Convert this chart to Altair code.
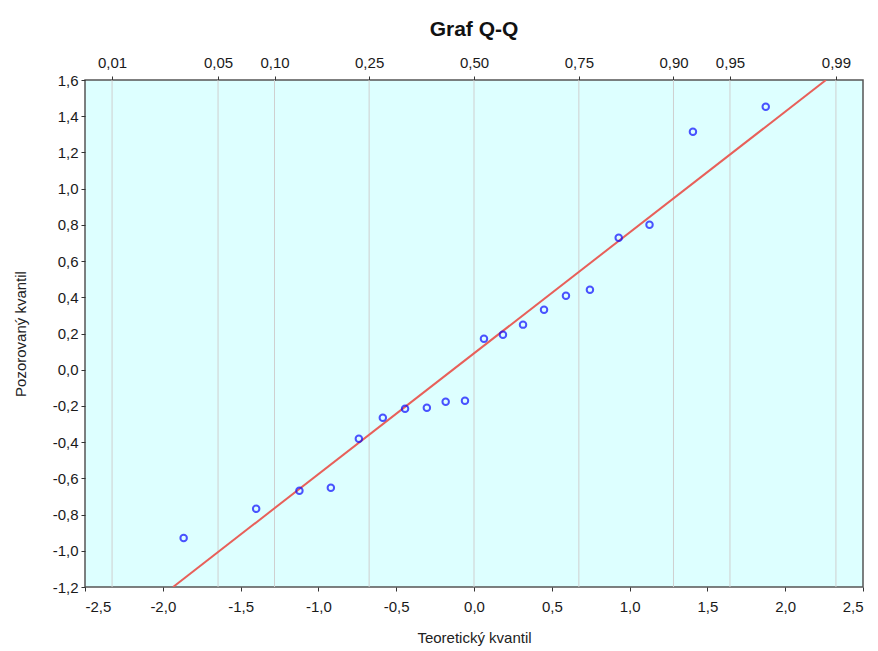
import altair as alt
import pandas as pd

theoretical = [-1.866, -1.400, -1.122, -0.920, -0.740, -0.586, -0.443, -0.303, -0.182, -0.058,
               0.064, 0.186, 0.315, 0.450, 0.591, 0.745, 0.930, 1.128, 1.407, 1.875]
observed = [-0.930, -0.768, -0.668, -0.652, -0.381, -0.265, -0.215, -0.210, -0.177, -0.171,
            0.171, 0.193, 0.249, 0.331, 0.409, 0.442, 0.729, 0.800, 1.314, 1.452]

# Reference line endpoints (read at the plot edges)
line_x = [-1.934, 2.262]
line_y = [-1.2, 1.6]

# Top axis: probability labels at normal quantile positions
prob_labels = ["0,01", "0,05", "0,10", "0,25", "0,50", "0,75", "0,90", "0,95", "0,99"]
prob_positions = [-2.326, -1.645, -1.282, -0.674, 0.0, 0.674, 1.282, 1.645, 2.326]

x_ticks = [-2.5, -2.0, -1.5, -1.0, -0.5, 0.0, 0.5, 1.0, 1.5, 2.0, 2.5]
y_ticks = [-1.2, -1.0, -0.8, -0.6, -0.4, -0.2, 0.0, 0.2, 0.4, 0.6, 0.8, 1.0, 1.2, 1.4, 1.6]

FONT = "Liberation Sans Narrow, Arial Narrow, Liberation Sans, Arial"

pts = pd.DataFrame({"x": theoretical, "y": observed})
ln = pd.DataFrame({"x": line_x, "y": line_y})
grid = pd.DataFrame({"x": prob_positions, "lab": prob_labels})

comma = "replace(replace(format(datum.value, '.1f'), '.', ','), '\u2212', '-')"
top_expr = "".join(
    f"abs(datum.value - ({p})) < 0.01 ? '{l}' : " for p, l in zip(prob_positions, prob_labels)
) + "''"

xscale = alt.Scale(domain=[-2.5, 2.5], nice=False, zero=False)
yscale = alt.Scale(domain=[-1.2, 1.6], nice=False, zero=False)

y_axis = alt.Axis(values=y_ticks, labelExpr=comma, title="Pozorovaný kvantil",
                  grid=False, domain=False, tickSize=4, labelPadding=3,
                  titlePadding=24, labelOverlap=False)

grid_layer = alt.Chart(grid).mark_rule(color="#cfcfcf", strokeWidth=1).encode(
    x=alt.X("x:Q", scale=xscale,
            axis=alt.Axis(orient="top", values=prob_positions, labelExpr=top_expr,
                          title=None, grid=False, domain=False, ticks=True,
                          tickSize=4, labelPadding=6, labelOverlap=False)),
)

line_layer = alt.Chart(ln).mark_line(color="#e8605a", strokeWidth=2, clip=True).encode(
    x=alt.X("x:Q", scale=xscale,
            axis=alt.Axis(values=x_ticks, labelExpr=comma, title="Teoretický kvantil",
                          grid=False, domain=False, tickSize=4, labelPadding=8,
                          titlePadding=16, labelOverlap=False)),
    y=alt.Y("y:Q", scale=yscale, axis=y_axis),
)

pt_layer = alt.Chart(pts).mark_point(shape="circle", filled=False, color="#0a0aff",
                                     size=42, strokeWidth=2).encode(
    x=alt.X("x:Q", scale=xscale, axis=None),
    y=alt.Y("y:Q", scale=yscale, axis=y_axis),
)

chart = (
    alt.layer(grid_layer, line_layer, pt_layer)
    .resolve_axis(x="independent")
    .properties(
        width=778,
        height=507,
        title=alt.TitleParams("Graf Q-Q", fontSize=21, fontWeight="bold",
                              font="Liberation Sans, Arial", anchor="middle",
                              color="#111", offset=15),
        autosize=alt.AutoSizeParams(type="none"),
        padding={"left": 77, "top": 72, "right": 5, "bottom": 60},
        background="white",
    )
    .configure_view(fill="#ddffff", stroke="#555555", strokeWidth=1.5)
    .configure_axis(labelFont=FONT, titleFont=FONT, labelFontSize=15, titleFontSize=15,
                    labelColor="#1a1a1a", titleColor="#222", titleFontWeight="normal",
                    tickColor="#333")
)

chart.save("out.html", embed_options={"renderer": "svg", "actions": False})
